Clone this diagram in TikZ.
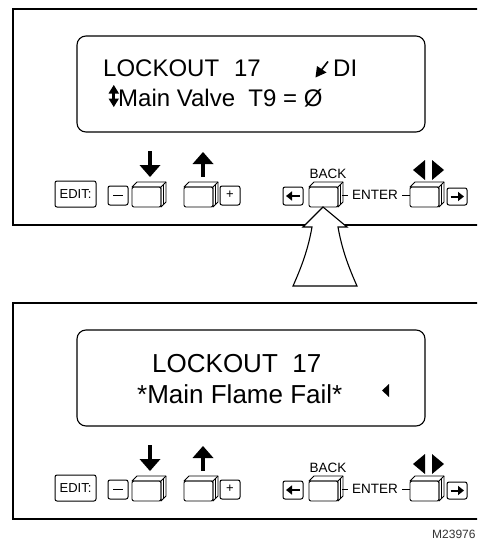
\documentclass[tikz,border=0pt]{standalone}
\usepackage{fontspec}
\setmainfont{Liberation Sans}
\usetikzlibrary{arrows.meta}
\tikzset{
  panelln/.style={line width=2.4pt},
  displn/.style={line width=1.1pt, rounded corners=9pt},
  keyln/.style={line width=0.9pt, line join=round},
  smallbox/.style={line width=1pt, rounded corners=2pt},
  disptext/.style={inner sep=0pt, anchor=base west, font=\fontsize{24}{28}\selectfont},
  disptextb/.style={inner sep=0pt, anchor=base west, font=\fontsize{26}{30}\selectfont},
  btntext/.style={inner sep=0pt, font=\fontsize{13.5}{16}\selectfont},
  boxtext/.style={inner sep=0pt, font=\fontsize{13}{15}\selectfont},
  smallarrow/.style={line width=2pt, -{Triangle[length=6pt,width=9pt]}},
}
% 3D key cap: front face top-left at (#1,#2)
\newcommand\KeyCap[2]{%
  \begin{scope}[shift={(#1,#2)}]
    \draw[keyln, fill=white] (0,0) -- (5,-5) -- (34,-5) -- (34,15) -- (29,20) -- (29,0) -- cycle;
    \draw[keyln] (29,0) -- (34,-5);
    \draw[line width=0.5pt] (31.5,-2.5) -- (31.5,17.5);
    \draw[keyln, rounded corners=2pt] (0,0) rectangle (29,20);
  \end{scope}}
% row of buttons, suffix #1
\newcommand\ButtonRow[1]{%
  % EDIT
  \draw[smallbox] (55,181) rectangle (96,207);
  \node[boxtext] (edit#1) at (75.5,194) {EDIT:};
  % minus box and down key
  \draw[smallbox] (108,186) rectangle (128,205);
  \draw[line width=1pt] (113,195.5) -- (123,195.5);
  \KeyCap{132}{187}
  \fill (148,151) rectangle (152,166);
  \fill (139.5,165) -- (160.5,165) -- (150,177) -- cycle;
  % up key and plus box
  \KeyCap{184}{187}
  \fill (201,163) rectangle (205,177);
  \fill (192.5,164) -- (213.5,164) -- (203,152) -- cycle;
  \draw[smallbox] (220,186) rectangle (240,205);
  \node[boxtext] (plus#1) at (230,195) {+};
  % back
  \draw[smallbox] (283,187) rectangle (303,205);
  \coordinate (la#1) at (299.5,196);
  \coordinate (lb#1) at (286,196);
  \draw[smallarrow] (la#1) -- (lb#1);
  \KeyCap{309}{187}
  \node[btntext, anchor=base] (back#1) at (328,178) {BACK};
  % enter
  \draw[line width=0.8pt] (342,195) -- (348,195);
  \node[btntext, anchor=base west] (enter#1) at (352,199) {ENTER};
  \draw[line width=0.8pt] (402,195) -- (410,195);
  \KeyCap{410}{187}
  \fill (425,160) -- (425,180) -- (413,170) -- cycle;
  \fill (432,160) -- (432,180) -- (444,170) -- cycle;
  \draw[smallbox] (447,188) rectangle (467,205);
  \coordinate (ra#1) at (450.5,196.5);
  \coordinate (rb#1) at (464,196.5);
  \draw[smallarrow] (ra#1) -- (rb#1);
}
\begin{document}
\begin{tikzpicture}[x=1pt, y=-1pt]
\useasboundingbox (0,0) rectangle (477,543);
\clip (0,0) rectangle (477,543);
\fill[white] (0,0) rectangle (477,543);

% ---------- top panel ----------
\draw[panelln] (13,9) rectangle (495,225);
\draw[displn] (77,36) rectangle (425,132);
\node[disptext] (l1) at (103,76) {LOCKOUT\hspace{0.62em}17};
\node[disptext] (di) at (333,76) {DI};
% check-like arrow
\draw[line width=1.6pt] (328,61.5) -- (321,70.5);
\fill (315.5,77.5) -- (317,66) -- (326.5,72.5) -- cycle;
% up-down arrow
\fill (112.3,91) rectangle (115.3,101);
\fill (108.5,93.5) -- (119,93.5) -- (113.8,85) -- cycle;
\fill (108.5,98.5) -- (119,98.5) -- (113.8,107) -- cycle;
\node[disptext] (l2) at (118,106) {Main Valve\ \ T9 = Ø};
\ButtonRow{a}

% ---------- bottom panel ----------
\begin{scope}[shift={(0,294)}]
\draw[panelln] (13,9) rectangle (495,225);
\draw[displn] (77,36) rectangle (425,132);
\ButtonRow{b}
\end{scope}
\node[disptextb] (m1) at (152,372) {LOCKOUT\ \ 17};
\node[disptextb] (m2) at (137,403) {*Main Flame Fail*};
\fill (389,384) -- (389,397) -- (382,390.5) -- cycle;

% ---------- big hollow arrow ----------
\draw[line width=1.1pt, line join=miter, fill=white]
  (323,207) -- (347,227) -- (338,227)
  .. controls (342,250) and (349,268) .. (357,286)
  -- (293,286)
  .. controls (301,268) and (308,250) .. (312,227)
  -- (303,227) -- cycle;

% figure id
\node[inner sep=0pt, anchor=base west, font=\fontsize{12}{14}\selectfont, text=black!80] (fig) at (432,538) {M23976};
\end{tikzpicture}
\end{document}
